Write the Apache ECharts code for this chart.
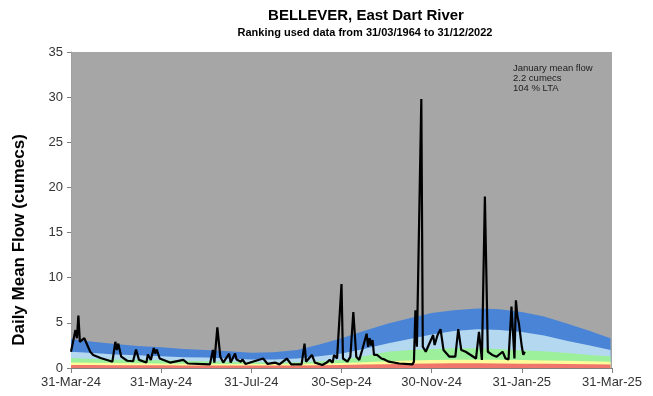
<!DOCTYPE html>
<html>
<head>
<meta charset="utf-8">
<script src="https://cdn.jsdelivr.net/npm/echarts@6/dist/echarts.min.js"></script>
<style>html,body{margin:0;padding:0;background:#fff}#c{width:653px;height:396px}</style>
</head>
<body>
<div id="c"></div>
<script>
// x-axis tick labels (every 61 days from 31-Mar-24)
const xTickLabels = ['31-Mar-24','31-May-24','31-Jul-24','30-Sep-24','30-Nov-24','31-Jan-25','31-Mar-25'];
const yTicks = [0,5,10,15,20,25,30,35];

// Percentile band boundaries (days since 31-Mar-24)
const bandDays     = [0,15,30,45,61,76,91,107,122,137,153,168,183,198,214,229,244,259,275,290,305,320,336,351,365];
const redTop       = [0.33,0.32,0.31,0.3,0.3,0.29,0.28,0.28,0.27,0.27,0.28,0.3,0.33,0.38,0.42,0.46,0.5,0.52,0.52,0.5,0.48,0.46,0.44,0.42,0.4];
const yellowTop    = [0.6,0.57,0.55,0.52,0.5,0.48,0.46,0.45,0.44,0.44,0.46,0.5,0.56,0.65,0.75,0.82,0.88,0.9,0.9,0.9,0.88,0.84,0.8,0.75,0.7];
const greenTop     = [1.1,1.0,0.95,0.9,0.85,0.8,0.75,0.7,0.65,0.62,0.65,0.75,0.9,1.3,1.8,2.0,2.1,2.2,2.2,2.1,1.95,1.85,1.65,1.45,1.3];
const lightBlueTop = [1.8,1.65,1.5,1.4,1.3,1.2,1.15,1.05,0.95,0.95,1.05,1.3,1.6,2.1,2.7,3.2,3.7,4.1,4.3,4.2,4.0,3.6,3.0,2.5,2.0];
const blueTop      = [3.2,2.9,2.65,2.45,2.3,2.1,2.0,1.85,1.7,1.75,2.0,2.6,3.3,4.1,4.9,5.5,6.1,6.4,6.6,6.5,6.2,5.7,4.9,4.1,3.3];

// Daily mean flow (days since 31-Mar-24, cumecs)
const flowDays = [0,3,4,5,6,9,11,13,15,20,26,28,30,31,32,34,38,42,44,46,51,52,54,56,57,58,60,67,76,79,94,96,97,99,101,103,107,108,111,112,115,116,118,130,133,138,141,146,149,156,158,159,163,165,170,173,175,177,178,180,183,184,187,189,191,193,195,197,198,200,201,202,203,204,205,206,207,210,212,215,222,231,232,233,234,235,237,238,240,245,246,248,250,252,256,260,262,264,267,274,276,278,280,282,285,288,292,294,296,298,300,301,302,303,304,305,306,307];
const flowValues = [1.8,4.2,3.3,5.8,2.9,3.3,2.55,1.8,1.45,1.1,0.8,0.7,2.9,2.0,2.7,1.25,0.8,0.75,2.05,0.9,0.6,1.5,0.9,2.2,1.6,2.05,1.05,0.6,0.9,0.5,0.4,2.0,0.6,4.5,1.25,0.6,1.6,0.6,1.6,0.95,0.7,0.95,0.45,1.05,0.45,0.6,0.4,1.05,0.4,0.4,2.7,0.7,1.45,0.6,0.33,0.6,0.9,0.6,1.45,1.05,9.3,1.05,0.7,1.25,6.2,1.25,0.9,2.0,1.8,3.8,2.35,3.3,2.5,3.1,1.45,1.25,1.45,1.05,0.95,0.7,0.5,0.4,0.7,6.4,2.35,2.2,29.8,2.35,1.8,3.65,2.55,3.65,4.3,2.0,1.25,1.25,4.3,2.0,1.8,1.05,4.0,0.9,19.0,1.8,1.45,1.25,1.8,1.05,0.95,6.8,1.05,7.5,5.7,4.95,5.1,2.35,1.45,1.8];

const noteLines = ['January mean flow','2.2 cumecs','104 % LTA'];
const yAxisTitle = 'Daily Mean Flow (cumecs)';

function pairs(xs, ys){ return xs.map((x,i)=>[x, ys[i]]); }
function band(name, ys, color){
  return {name, type:'line', data:pairs(bandDays, ys), showSymbol:false, symbol:'none', smooth:false,
    lineStyle:{width:0}, areaStyle:{color, opacity:1}, itemStyle:{color}, silent:true, z:1};
}
const FONT = 'Liberation Sans, Arial, sans-serif';

const chart = echarts.init(document.getElementById('c'), null, {renderer:'canvas'});
chart.setOption({
  animation:false,
  backgroundColor:'#ffffff',
  textStyle:{fontFamily:FONT},
  title:[
    {text:'BELLEVER, East Dart River', left:361, top:3, textAlign:'center',
     textStyle:{fontSize:15, fontWeight:'bold', color:'#000', fontFamily:FONT}},
    {text:'Ranking used data from 31/03/1964 to 31/12/2022', left:360, top:22, textAlign:'center',
     textStyle:{fontSize:11, fontWeight:'bold', color:'#000', fontFamily:FONT}}
  ],
  graphic:[
    {type:'text', left:513, top:63, z:100,
     style:{text:noteLines.join('\n'), fontSize:9.5, lineHeight:10, fill:'#222', fontFamily:FONT}},
    {type:'text', x:19, y:240, rotation:Math.PI/2, z:100,
     style:{text:yAxisTitle, fontSize:17, fontWeight:'bold', fill:'#000', fontFamily:FONT,
            align:'center', verticalAlign:'middle'}}
  ],
  grid:{left:71, right:41, top:52, bottom:28, show:true, backgroundColor:'#a6a6a6', borderWidth:0},
  xAxis:{type:'value', min:0, max:366, interval:61,
    axisLine:{show:true, lineStyle:{color:'#808080', width:1}},
    axisTick:{show:true, length:5, lineStyle:{color:'#808080'}},
    splitLine:{show:false},
    axisLabel:{fontSize:13, color:'#333', margin:8, fontFamily:FONT,
      formatter:(v)=>xTickLabels[Math.round(v/61)] || ''}},
  yAxis:{type:'value', min:yTicks[0], max:yTicks[yTicks.length-1], interval:5,
    axisLine:{show:true, lineStyle:{color:'#a0a0a0', width:1}},
    axisTick:{show:true, length:4, lineStyle:{color:'#808080'}},
    splitLine:{show:false},
    axisLabel:{fontSize:13, color:'#333', margin:8, fontFamily:FONT}},
  series:[
    band('blue', blueTop, '#4a84d6'),
    band('lightblue', lightBlueTop, '#b5d8f1'),
    band('green', greenTop, '#9cf09c'),
    band('yellow', yellowTop, '#fcfc9a'),
    band('red', redTop, '#f0766c'),
    {name:'flow', type:'line', data:pairs(flowDays, flowValues), showSymbol:false, symbol:'none',
     lineStyle:{color:'#000', width:2.2}, z:5, silent:true}
  ]
});
</script>
</body>
</html>
